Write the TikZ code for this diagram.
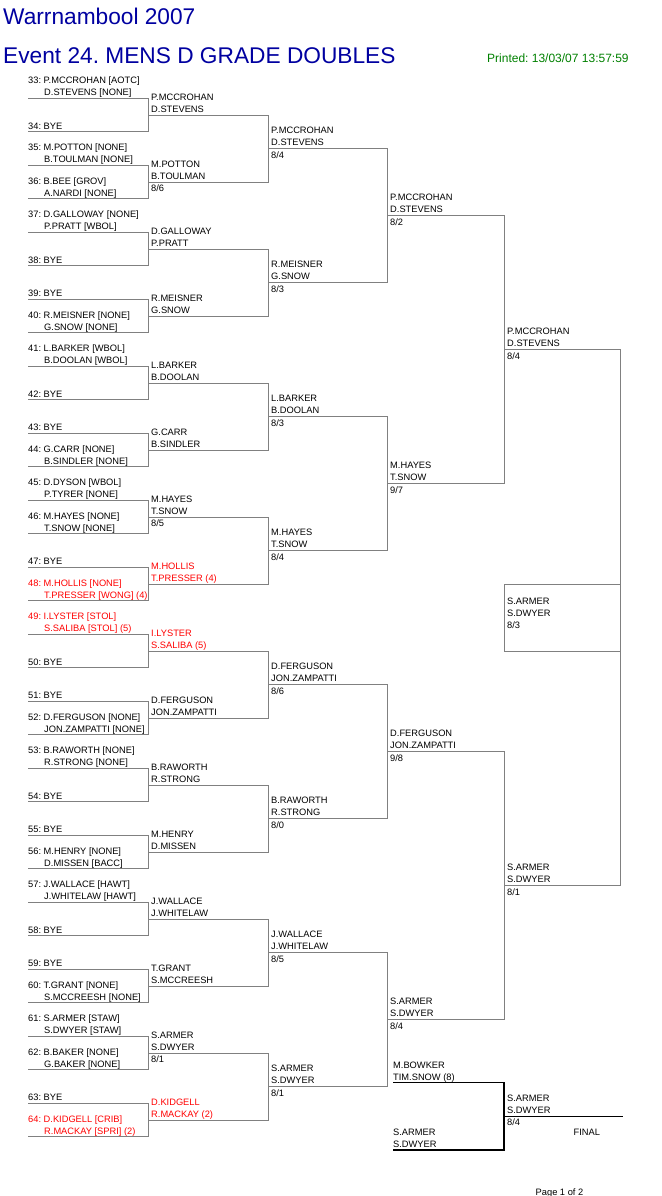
\documentclass[tikz,border=0pt]{standalone}
\usepackage{fontspec}
\setmainfont{Liberation Sans}
\frenchspacing
\definecolor{headblue}{RGB}{0,0,160}
\definecolor{printgreen}{RGB}{0,128,0}

\begin{document}
\begin{tikzpicture}[x=1pt,y=-1pt,
    tie/.style={draw=gray,line width=0.8pt},
    fin/.style={draw=black,line width=1.1pt},
    txt/.style={anchor=base west,font=\fontsize{9.3}{11}\selectfont},
    head/.style={anchor=base west,font=\fontsize{22.7}{26}\selectfont,text=headblue}]
            \tikzstyle{every node}+=[inner sep=0pt]
            \useasboundingbox (0,0) rectangle (661,1196);
            % headings
            \draw (3,25) node [head] (club) {Warrnambool 2007};
            \draw (3,63.5) node [head] (event) {Event 24. MENS D GRADE DOUBLES};
            \draw (487,63) node [anchor=base west,font=\fontsize{12}{14}\selectfont,text=printgreen] (printed) {Printed: 13/03/07 13:57:59};
            % bracket lines, round by round
            \foreach \r/\xa/\xb in {1/28/148, 2/148/268, 3/268/387, 4/387/504, 5/504/620} {
              \pgfmathtruncatemacro\s{2^(\r-1)}
              \pgfmathtruncatemacro\n{16/\s-1}
              \foreach \i in {0,...,\n} {
                \pgfmathsetmacro\ya{98.3+33.5*(2*\s*\i+(\s-1)/2)}
                \pgfmathsetmacro\yb{\ya+33.5*\s}
                \coordinate (top\r-\i) at (\xa,\ya);
                \coordinate (bot\r-\i) at (\xb,\yb);
                \draw [tie] (top\r-\i) -- (top\r-\i -| bot\r-\i) -- (bot\r-\i) -- (bot\r-\i -| top\r-\i);
              }
            }
            \coordinate (boxa) at (504,584.05);
            \coordinate (boxb) at (620,651.05);
            \draw [tie] (boxa) rectangle (boxb);
            % entries
            \foreach \k/\p/\q/\c in {0/P.MCCROHAN [AOTC]/D.STEVENS [NONE]/black,
                2/M.POTTON [NONE]/B.TOULMAN [NONE]/black, 3/B.BEE [GROV]/A.NARDI [NONE]/black,
                4/D.GALLOWAY [NONE]/P.PRATT [WBOL]/black, 7/R.MEISNER [NONE]/G.SNOW [NONE]/black,
                8/L.BARKER [WBOL]/B.DOOLAN [WBOL]/black, 11/G.CARR [NONE]/B.SINDLER [NONE]/black,
                12/D.DYSON [WBOL]/P.TYRER [NONE]/black, 13/M.HAYES [NONE]/T.SNOW [NONE]/black,
                15/M.HOLLIS [NONE]/T.PRESSER [WONG] (4)/red, 16/I.LYSTER [STOL]/S.SALIBA [STOL] (5)/red,
                19/D.FERGUSON [NONE]/JON.ZAMPATTI [NONE]/black, 20/B.RAWORTH [NONE]/R.STRONG [NONE]/black,
                23/M.HENRY [NONE]/D.MISSEN [BACC]/black, 24/J.WALLACE [HAWT]/J.WHITELAW [HAWT]/black,
                27/T.GRANT [NONE]/S.MCCREESH [NONE]/black, 28/S.ARMER [STAW]/S.DWYER [STAW]/black,
                29/B.BAKER [NONE]/G.BAKER [NONE]/black, 31/D.KIDGELL [CRIB]/R.MACKAY [SPRI] (2)/red} {
              \pgfmathsetmacro\yl{98.3+33.5*\k}
              \pgfmathtruncatemacro\num{33+\k}
              \draw (28,{\yl-14.6}) node [txt,text=\c] (e\num-a) {\num: \p};
              \draw (44,{\yl-2.6}) node [txt,text=\c] (e\num-b) {\q};
            }
            \foreach \k in {1,5,6,9,10,14,17,18,21,22,25,26,30} {
              \pgfmathsetmacro\yl{98.3+33.5*\k}
              \pgfmathtruncatemacro\num{33+\k}
              \draw (28,{\yl-2.6}) node [txt] (e\num-a) {\num: BYE};
            }
            % second round
            \foreach \j/\p/\q/\c in {0/P.MCCROHAN/D.STEVENS/black, 1/M.POTTON/B.TOULMAN/black,
                2/D.GALLOWAY/P.PRATT/black, 3/R.MEISNER/G.SNOW/black, 4/L.BARKER/B.DOOLAN/black,
                5/G.CARR/B.SINDLER/black, 6/M.HAYES/T.SNOW/black, 7/M.HOLLIS/T.PRESSER (4)/red,
                8/I.LYSTER/S.SALIBA (5)/red, 9/D.FERGUSON/JON.ZAMPATTI/black, 10/B.RAWORTH/R.STRONG/black,
                11/M.HENRY/D.MISSEN/black, 12/J.WALLACE/J.WHITELAW/black, 13/T.GRANT/S.MCCREESH/black,
                14/S.ARMER/S.DWYER/black, 15/D.KIDGELL/R.MACKAY (2)/red} {
              \pgfmathsetmacro\yl{98.3+33.5*(2*\j+0.5)}
              \draw (151,{\yl-14.6}) node [txt,text=\c] (w2-\j-a) {\p};
              \draw (151,{\yl-2.6}) node [txt,text=\c] (w2-\j-b) {\q};
            }
            \foreach \j/\sa/\sb in {1/8/6, 6/8/5, 14/8/1} {
              \pgfmathsetmacro\yl{98.3+33.5*(2*\j+0.5)}
              \draw (151,{\yl+9.5}) node [txt] (w2-\j-s) {\sa/\sb};
            }
            % later rounds
            \foreach \r/\xs/\j/\p/\q/\sa/\sb in {3/271/0/P.MCCROHAN/D.STEVENS/8/4,
                3/271/1/R.MEISNER/G.SNOW/8/3, 3/271/2/L.BARKER/B.DOOLAN/8/3,
                3/271/3/M.HAYES/T.SNOW/8/4, 3/271/4/D.FERGUSON/JON.ZAMPATTI/8/6,
                3/271/5/B.RAWORTH/R.STRONG/8/0, 3/271/6/J.WALLACE/J.WHITELAW/8/5,
                3/271/7/S.ARMER/S.DWYER/8/1,
                4/390/0/P.MCCROHAN/D.STEVENS/8/2, 4/390/1/M.HAYES/T.SNOW/9/7,
                4/390/2/D.FERGUSON/JON.ZAMPATTI/9/8, 4/390/3/S.ARMER/S.DWYER/8/4,
                5/507/0/P.MCCROHAN/D.STEVENS/8/4, 5/507/1/S.ARMER/S.DWYER/8/1} {
              \pgfmathtruncatemacro\s{2^(\r-1)}
              \pgfmathsetmacro\yl{98.3+33.5*(\s*\j+(\s-1)/2)}
              \draw (\xs,{\yl-14.6}) node [txt] (w\r-\j-a) {\p};
              \draw (\xs,{\yl-2.6}) node [txt] (w\r-\j-b) {\q};
              \draw (\xs,{\yl+9.5}) node [txt] (w\r-\j-s) {\sa/\sb};
            }
            \draw (507,604) node [txt] (champ-a) {S.ARMER};
            \draw (507,616) node [txt] (champ-b) {S.DWYER};
            \draw (507,628.8) node [txt] (champ-s) {8/3};
            % play-off
            \coordinate (pa) at (393,1082.3);
            \coordinate (pb) at (393,1150);
            \coordinate (pm) at (504,1116.3);
            \coordinate (pe) at (622.7,1116.3);
            \draw [fin] (pa) -- (pa -| pm) -- (pb -| pm) -- (pb);
            \draw [fin] (pm) -- (pe);
            \draw (393,1068.2) node [txt] (po-a) {M.BOWKER};
            \draw (393,1080.2) node [txt] (po-b) {TIM.SNOW (8)};
            \draw (393,1135.6) node [txt] (pq-a) {S.ARMER};
            \draw (393,1147.6) node [txt] (pq-b) {S.DWYER};
            \draw (507,1101.9) node [txt] (pw-a) {S.ARMER};
            \draw (507,1113.9) node [txt] (pw-b) {S.DWYER};
            \draw (507,1125.8) node [txt] (pw-s) {8/4};
            \draw (573.5,1135.4) node [txt] (final) {FINAL};
            \draw (535.5,1195) node [txt] (page) {Page 1 of 2};
            \end{tikzpicture}
\end{document}
